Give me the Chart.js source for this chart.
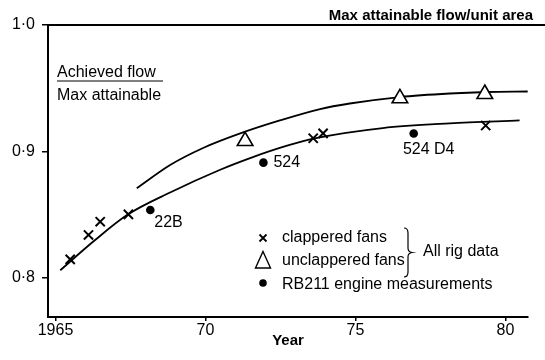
<!DOCTYPE html>
<html>
<head>
<meta charset="utf-8">
<script src="https://cdn.jsdelivr.net/npm/chart.js@4"></script>
<style>
  body { margin: 0; background: #fff; }
</style>
</head>
<body>
<canvas id="myChart" width="545" height="360"></canvas>
<script>
// clappered fans (rig data)
var clapperedYears = [1965.49, 1966.10, 1966.49, 1967.43, 1973.59, 1973.92, 1979.34];
var clapperedValues = [0.8146, 0.8339, 0.8444, 0.8502, 0.9104, 0.9143, 0.9205];
// unclappered fans (rig data)
var unclapperedYears = [1971.32, 1976.48, 1979.31];
var unclapperedValues = [0.9082, 0.9420, 0.9454];
// RB211 engine measurements
var engineYears = [1968.16, 1971.93, 1976.94];
var engineValues = [0.8536, 0.8911, 0.9142];
var engineLabels = ['22B', '524', '524 D4'];
// hand-drawn trend curves
var lowerCurveYears = [1965.16, 1966.30, 1967.42, 1968.82, 1970.49, 1971.58, 1972.72, 1973.68, 1975.91, 1978.14, 1980.47];
var lowerCurveValues = [0.8060, 0.8295, 0.8502, 0.8675, 0.8855, 0.8955, 0.9045, 0.9105, 0.9185, 0.9222, 0.9245];
var upperCurveYears = [1967.71, 1968.82, 1969.92, 1971.25, 1972.48, 1973.82, 1974.81, 1976.48, 1978.14, 1979.37, 1980.74];
var upperCurveValues = [0.8708, 0.8892, 0.9027, 0.9150, 0.9245, 0.9335, 0.9379, 0.9430, 0.9458, 0.9470, 0.9474];
// axis ticks
var xTicks = [1965, 1970, 1975, 1980];
var xTickLabels = ['1965', '70', '75', '80'];
var yTicks = [0.8, 0.9, 1.0];
var yTickLabels = ['0·8', '0·9', '1·0'];

var FONT = "'Liberation Sans', Arial, sans-serif";
Chart.defaults.font.family = FONT;
Chart.defaults.font.size = 16;
Chart.defaults.color = '#000';

function pts(xs, ys) {
    return xs.map(function (x, i) { return { x: x, y: ys[i] }; });
}
function labelFor(list, labels, v) {
    for (var i = 0; i < list.length; i++) {
        if (Math.abs(list[i] - v) < 1e-6) return labels[i];
    }
    return '';
}

// where the engine labels sit relative to their dots
var labelPlace = [
    { dx: 4, dy: 13, align: 'left' },
    { dx: 10, dy: 0, align: 'left' },
    { dx: 15, dy: 16, align: 'center' }
];

var extras = {
    id: 'extras',
    afterDraw: function (chart) {
        var ctx = chart.ctx, a = chart.chartArea;
        var yTop = chart.scales.y.getPixelForValue(1.0);
        ctx.save();
        ctx.strokeStyle = '#000';
        ctx.fillStyle = '#000';

        // line at 1.0 running out to the edge
        ctx.lineWidth = 2;
        ctx.beginPath();
        ctx.moveTo(a.left - 1, yTop);
        ctx.lineTo(chart.width, yTop);
        ctx.stroke();

        ctx.font = 'bold 15px ' + FONT;
        ctx.textAlign = 'right';
        ctx.textBaseline = 'middle';
        ctx.fillText('Max attainable flow/unit area', 533, 16);

        // y label as a fraction
        ctx.font = '16px ' + FONT;
        ctx.textAlign = 'left';
        ctx.textBaseline = 'alphabetic';
        ctx.fillText('Achieved flow', 57, 77);
        ctx.fillText('Max attainable', 57, 100);
        ctx.lineWidth = 1.2;
        ctx.beginPath();
        ctx.moveTo(57, 81);
        ctx.lineTo(163, 81);
        ctx.stroke();

        // engine labels
        var meta = chart.getDatasetMeta(2);
        ctx.textBaseline = 'middle';
        engineLabels.forEach(function (t, i) {
            var p = meta.data[i];
            ctx.textAlign = labelPlace[i].align;
            ctx.fillText(t, p.x + labelPlace[i].dx, p.y + labelPlace[i].dy);
        });

        // legend
        var mx = 263;
        ctx.lineWidth = 1.8;
        ctx.beginPath();
        ctx.moveTo(mx - 3.5, 234.5); ctx.lineTo(mx + 3.5, 241.5);
        ctx.moveTo(mx + 3.5, 234.5); ctx.lineTo(mx - 3.5, 241.5);
        ctx.stroke();
        ctx.lineWidth = 1.4;
        ctx.beginPath();
        ctx.moveTo(mx, 251.5); ctx.lineTo(mx + 7.5, 268); ctx.lineTo(mx - 7.5, 268);
        ctx.closePath();
        ctx.stroke();
        ctx.beginPath();
        ctx.arc(mx, 283, 3.8, 0, Math.PI * 2);
        ctx.fill();

        ctx.textAlign = 'left';
        ctx.fillText('clappered fans', 282, 238);
        ctx.fillText('unclappered fans', 282, 261);
        ctx.fillText('RB211 engine measurements', 282, 285);

        // brace
        ctx.lineWidth = 1.2;
        ctx.beginPath();
        ctx.moveTo(404, 228);
        ctx.quadraticCurveTo(408, 228, 408, 233);
        ctx.lineTo(408, 248);
        ctx.quadraticCurveTo(408, 252, 412, 252.5);
        ctx.quadraticCurveTo(408, 253, 408, 257);
        ctx.lineTo(408, 272);
        ctx.quadraticCurveTo(408, 277, 404, 277);
        ctx.stroke();
        ctx.fillText('All rig data', 423, 252);
        ctx.restore();
    }
};

var ctx = document.getElementById('myChart').getContext('2d');
var myChart = new Chart(ctx, {
    type: 'scatter',
    data: {
        datasets: [{
            label: 'clappered fans',
            data: pts(clapperedYears, clapperedValues),
            pointStyle: 'crossRot',
            pointRadius: 6.5,
            borderColor: '#000',
            borderWidth: 2
        }, {
            label: 'unclappered fans',
            data: pts(unclapperedYears, unclapperedValues),
            pointStyle: 'triangle',
            pointRadius: 9,
            backgroundColor: '#fff',
            borderColor: '#000',
            borderWidth: 1.6
        }, {
            label: 'RB211 engine measurements',
            data: pts(engineYears, engineValues),
            pointStyle: 'circle',
            pointRadius: 4.3,
            backgroundColor: '#000',
            borderColor: '#000',
            borderWidth: 0
        }, {
            label: 'lower curve',
            data: pts(lowerCurveYears, lowerCurveValues),
            showLine: true,
            pointRadius: 0,
            borderColor: '#000',
            borderWidth: 1.8,
            cubicInterpolationMode: 'monotone'
        }, {
            label: 'upper curve',
            data: pts(upperCurveYears, upperCurveValues),
            showLine: true,
            pointRadius: 0,
            borderColor: '#000',
            borderWidth: 1.8,
            cubicInterpolationMode: 'monotone'
        }]
    },
    options: {
        responsive: false,
        animation: false,
        layout: { padding: { top: 25, right: 17, left: 0, bottom: 0 } },
        plugins: {
            legend: { display: false },
            tooltip: { enabled: false }
        },
        scales: {
            x: {
                type: 'linear',
                min: 1964.75,
                max: 1980.75,
                afterFit: function (s) { s.height = 43; },
                afterBuildTicks: function (s) { s.ticks = xTicks.map(function (v) { return { value: v }; }); },
                ticks: {
                    padding: 0,
                    maxRotation: 0,
                    autoSkip: false,
                    callback: function (v) { return labelFor(xTicks, xTickLabels, v); }
                },
                grid: { drawOnChartArea: false, tickLength: 4, color: '#000', lineWidth: 1.5 },
                border: { color: '#000', width: 2 },
                title: {
                    display: true,
                    text: 'Year',
                    font: { size: 15, weight: 'bold' },
                    padding: { top: 0, bottom: 10 }
                }
            },
            y: {
                type: 'linear',
                min: 0.769,
                max: 1.0,
                afterFit: function (s) { s.width = 48; },
                afterBuildTicks: function (s) { s.ticks = yTicks.map(function (v) { return { value: v }; }); },
                ticks: {
                    padding: 7,
                    callback: function (v) { return labelFor(yTicks, yTickLabels, v); }
                },
                grid: { drawOnChartArea: false, tickLength: 6, color: '#000', lineWidth: 1.5 },
                border: { color: '#000', width: 2 }
            }
        }
    },
    plugins: [extras]
});
</script>
</body>
</html>
